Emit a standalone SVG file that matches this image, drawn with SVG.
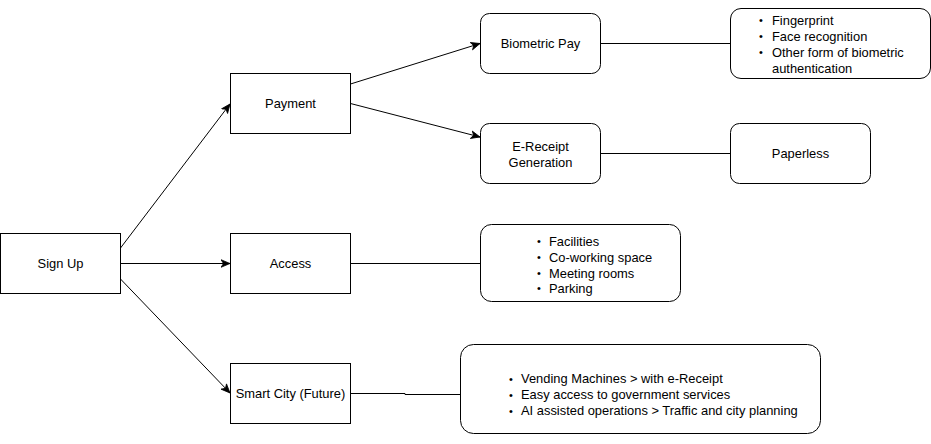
<svg xmlns="http://www.w3.org/2000/svg" width="931" height="444" viewBox="0 0 931 444">
<defs>
<style>
.box{fill:#fff;stroke:#000;stroke-width:1}
.t{font-family:"Liberation Sans",Arial,Helvetica,sans-serif;font-size:12.9px;fill:#000}
.b{font-family:"Liberation Sans",Arial,Helvetica,sans-serif;font-size:11px;fill:#000}
.c{text-anchor:middle}
.ln{fill:none;stroke:#000;stroke-width:1}
</style>
<marker id="arr" viewBox="0 0 10 10" refX="9.5" refY="5" markerWidth="10" markerHeight="10" markerUnits="userSpaceOnUse" orient="auto">
<path d="M0.5,1.2 L9.5,5 L0.5,8.8 L3,5 Z" fill="#000" stroke="#000" stroke-width="0.8"/>
</marker>
</defs>
<rect width="931" height="444" fill="#fff"/>
<g id="connectors">
<path class="ln" d="M120.5,248 L230,104" marker-end="url(#arr)"/>
<path class="ln" d="M120.5,263.5 L230,263.5" marker-end="url(#arr)"/>
<path class="ln" d="M120.5,279 L230,393" marker-end="url(#arr)"/>
<path class="ln" d="M350.5,84 L480,43.5" marker-end="url(#arr)"/>
<path class="ln" d="M350.5,103.5 L480,137" marker-end="url(#arr)"/>
<path class="ln" d="M600.5,43.5 L730.5,43.5"/>
<path class="ln" d="M600.5,153.5 L730.5,153.5"/>
<path class="ln" d="M350.5,263.5 L480.5,263.5"/>
<path class="ln" d="M350.5,393.5 L405,393.5 L405,394.5 L460.5,394.5"/>
</g>
<g id="signup">
<rect class="box" x="0.5" y="233.5" width="120" height="60"/>
<text class="t c" x="60.5" y="268">Sign Up</text>
</g>
<g id="payment">
<rect class="box" x="230.5" y="73.5" width="120" height="60"/>
<text class="t c" x="290.5" y="108">Payment</text>
</g>
<g id="access">
<rect class="box" x="230.5" y="233.5" width="120" height="60"/>
<text class="t c" x="290.5" y="268">Access</text>
</g>
<g id="smartcity">
<rect class="box" x="230.5" y="363.5" width="120" height="60"/>
<text class="t c" x="290.5" y="398">Smart City (Future)</text>
</g>
<g id="biometric">
<rect class="box" x="480.5" y="13.5" width="120" height="60" rx="9" ry="9"/>
<text class="t c" x="540.5" y="48">Biometric Pay</text>
</g>
<g id="ereceipt">
<rect class="box" x="480.5" y="123.5" width="120" height="60" rx="9" ry="9"/>
<text class="t c" x="540.5" y="151">E-Receipt</text>
<text class="t c" x="540.5" y="167">Generation</text>
</g>
<g id="biolist">
<rect class="box" x="730.5" y="8.5" width="200" height="70" rx="10.5" ry="10.5"/>
<text class="b" x="759" y="24">•</text>
<text class="t" x="772" y="24.5">Fingerprint</text>
<text class="b" x="759" y="40">•</text>
<text class="t" x="772" y="40.5">Face recognition</text>
<text class="b" x="759" y="56">•</text>
<text class="t" x="772" y="56.5">Other form of biometric</text>
<text class="t" x="772" y="72.5">authentication</text>
</g>
<g id="paperless">
<rect class="box" x="730.5" y="123.5" width="140" height="60" rx="9" ry="9"/>
<text class="t c" x="800.5" y="158">Paperless</text>
</g>
<g id="accesslist">
<rect class="box" x="480.5" y="224.5" width="200" height="77" rx="11" ry="11"/>
<text class="b" x="537" y="245">•</text>
<text class="t" x="549" y="245.5">Facilities</text>
<text class="b" x="537" y="261">•</text>
<text class="t" x="549" y="261.5">Co-working space</text>
<text class="b" x="537" y="277">•</text>
<text class="t" x="549" y="277.5">Meeting rooms</text>
<text class="b" x="537" y="292">•</text>
<text class="t" x="549" y="292.5">Parking</text>
</g>
<g id="citylist">
<rect class="box" x="460.5" y="344.5" width="360" height="89" rx="13" ry="13"/>
<text class="b" x="509" y="382.5">•</text>
<text class="t" x="521" y="383">Vending Machines &gt; with e-Receipt</text>
<text class="b" x="509" y="398.5">•</text>
<text class="t" x="521" y="399">Easy access to government services</text>
<text class="b" x="509" y="414.5">•</text>
<text class="t" x="521" y="415">AI assisted operations &gt; Traffic and city planning</text>
</g>
</svg>
